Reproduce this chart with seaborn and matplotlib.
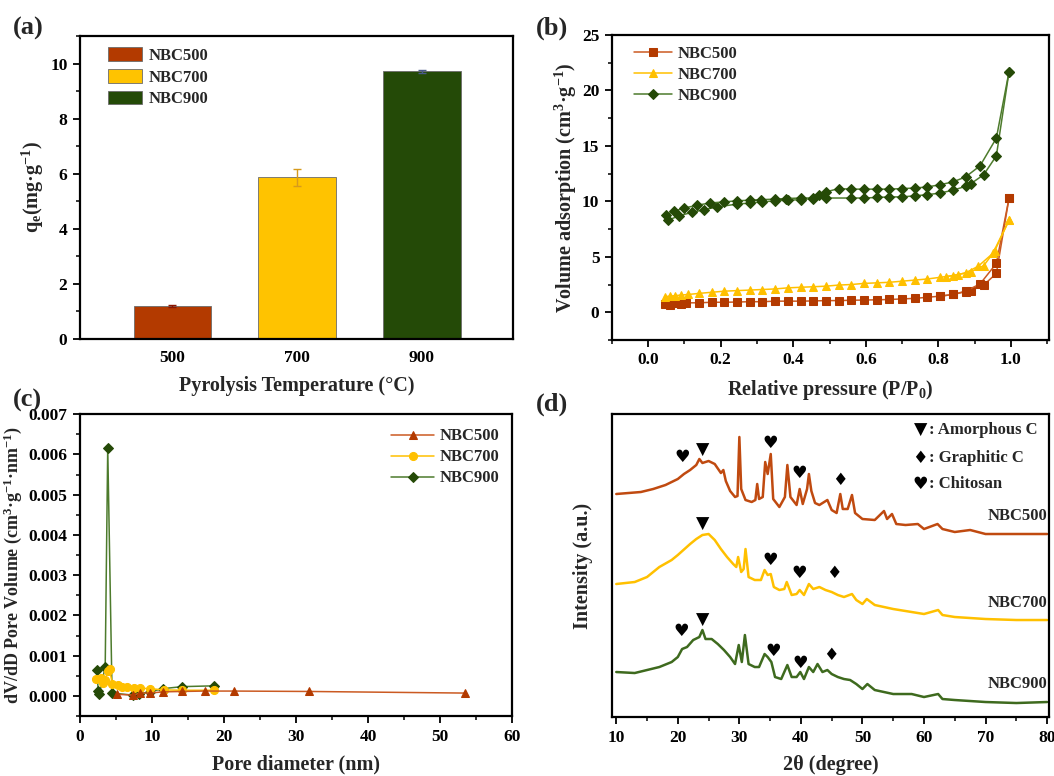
import numpy as np
import pandas as pd
import matplotlib
matplotlib.use("Agg")
import matplotlib.pyplot as plt
import seaborn as sns
from matplotlib.ticker import MultipleLocator, NullLocator

# ---------------- data ----------------
samples = ["NBC500", "NBC700", "NBC900"]
temps = ["500", "700", "900"]
qe = [1.20, 5.87, 9.72]
qe_err = [0.03, 0.30, 0.05]

# (b) N2 adsorption-desorption isotherms
b500_ads_p = [0.045, 0.06, 0.075, 0.09, 0.105, 0.14, 0.175, 0.21, 0.245, 0.28, 0.315, 0.35, 0.385, 0.42,
              0.455, 0.49, 0.525, 0.56, 0.595, 0.63, 0.665, 0.70, 0.735, 0.77, 0.805, 0.84, 0.875, 0.89,
              0.925, 0.96, 0.995]
b500_ads_v = [0.75, 0.65, 0.80, 0.75, 0.85, 0.85, 0.90, 0.90, 0.92, 0.95, 0.95, 1.00, 1.00, 1.00,
              1.02, 1.05, 1.05, 1.08, 1.10, 1.12, 1.15, 1.20, 1.25, 1.35, 1.45, 1.60, 1.85, 1.95,
              2.45, 3.50, 10.3]
b500_des_p = [0.995, 0.96, 0.915, 0.875, 0.84, 0.805]
b500_des_v = [10.3, 4.40, 2.55, 1.90, 1.60, 1.45]

b700_ads_p = [0.045, 0.06, 0.075, 0.09, 0.11, 0.14, 0.175, 0.21, 0.245, 0.28, 0.315, 0.35, 0.385, 0.42,
              0.455, 0.49, 0.525, 0.56, 0.595, 0.63, 0.665, 0.70, 0.735, 0.77, 0.805, 0.84, 0.875,
              0.91, 0.95, 0.995]
b700_ads_v = [1.40, 1.45, 1.50, 1.55, 1.60, 1.70, 1.80, 1.90, 1.95, 2.00, 2.05, 2.10, 2.20, 2.25,
              2.30, 2.35, 2.45, 2.50, 2.60, 2.65, 2.70, 2.80, 2.90, 3.00, 3.15, 3.30, 3.55,
              4.15, 5.30, 8.30]
b700_des_p = [0.995, 0.955, 0.925, 0.89, 0.855, 0.82]
b700_des_v = [8.30, 5.50, 4.20, 3.65, 3.40, 3.20]

b900_ads_p = [0.055, 0.085, 0.12, 0.155, 0.19, 0.245, 0.28, 0.315, 0.35, 0.385, 0.42, 0.455, 0.49,
              0.56, 0.595, 0.63, 0.665, 0.70, 0.735, 0.77, 0.805, 0.84, 0.875, 0.89, 0.925, 0.96, 0.995]
b900_ads_v = [8.30, 8.70, 9.00, 9.25, 9.50, 9.75, 9.85, 9.95, 10.05, 10.10, 10.15, 10.25, 10.30,
              10.30, 10.30, 10.35, 10.40, 10.40, 10.50, 10.60, 10.75, 11.00, 11.35, 11.60, 12.40, 14.10, 21.70]
b900_des_p = [0.995, 0.96, 0.915, 0.875, 0.84, 0.805, 0.77, 0.735, 0.70, 0.665, 0.63, 0.595, 0.56,
              0.525, 0.49, 0.47, 0.455, 0.42, 0.38, 0.35, 0.31, 0.28, 0.245, 0.21, 0.17, 0.135, 0.10,
              0.07, 0.05]
b900_des_v = [21.70, 15.70, 13.20, 12.20, 11.75, 11.50, 11.30, 11.20, 11.15, 11.10, 11.10, 11.10, 11.10,
              11.15, 10.85, 10.60, 10.30, 10.30, 10.25, 10.20, 10.15, 10.10, 10.05, 9.95, 9.85, 9.65, 9.40,
              9.10, 8.80]

# (c) pore size distribution
c500_d = [5.1, 7.3, 8.4, 9.7, 11.5, 14.2, 17.4, 21.4, 31.8, 53.4]
c500_v = [0.00004, 0.00002, 0.00007, 0.00007, 0.00010, 0.00011, 0.00012, 0.00012, 0.00011, 0.00007]
c700_d = [2.2, 2.9, 3.15, 3.5, 3.85, 4.1, 4.5, 5.3, 5.9, 6.5, 7.5, 8.4, 9.7, 11.6, 14.2, 18.6]
c700_v = [0.00043, 0.00045, 0.00031, 0.00040, 0.00062, 0.00066, 0.00029, 0.00026, 0.00023, 0.00022,
          0.00019, 0.00019, 0.00018, 0.00015, 0.00014, 0.00014]
c900_d = [2.3, 2.55, 2.7, 3.5, 3.85, 4.45, 7.3, 8.25, 9.7, 11.5, 14.2, 18.6]
c900_v = [0.00064, 0.00012, 0.00004, 0.00073, 0.00617, 0.00007, 0.00002, 0.00005, 0.00010, 0.00018,
          0.00023, 0.00025]

# (d) XRD patterns (offset, a.u.)
x500_t = [10, 12, 14, 16, 18, 20, 21, 22, 23, 23.5, 24, 25, 26, 27, 27.4, 27.8, 28.5, 29.3, 29.7, 30.0,
          30.3, 31, 32, 32.6, 32.9, 33.2, 33.8, 34.2, 34.6, 35.1, 35.5, 36.5, 37.4, 37.8, 38.3, 39.3,
          39.8, 40.3, 41.0, 41.3, 41.7, 42.3, 43, 44.3, 45, 45.8, 46.4, 46.8, 47.6, 48.3, 48.8, 50, 52,
          53.5, 54, 54.8, 55.5, 57, 59, 60, 62.2, 63, 65, 67.5, 70, 75, 80]
x500_i = [223, 224, 225, 228, 232, 238, 243, 247, 252, 258, 254, 256, 253, 244, 247, 236, 226, 220, 221, 280,
          228, 217, 215, 217, 233, 218, 220, 255, 243, 263, 218, 210, 220, 252, 220, 212,
          228, 213, 228, 243, 226, 214, 212, 217, 207, 204, 223, 208, 208, 222, 204, 198, 197,
          206, 198, 203, 193, 192, 193, 188, 193, 188, 185, 187, 183, 183, 183]
x700_t = [10, 13, 15, 17, 19, 20, 22, 23, 24, 25, 26, 27, 28, 29, 29.5, 29.8, 30.3, 30.7, 31.0, 31.5,
          32.5, 33.5, 34.1, 34.6, 35.1, 35.6, 36.5, 37.3, 37.7, 38.5, 39.3, 39.8, 40.5, 41.3, 42, 43,
          44, 45, 46, 47, 48.3, 49, 50, 50.7, 52, 55, 58, 60, 62.3, 63, 65, 70, 75, 80]
x700_i = [133, 135, 140, 150, 157, 162, 173, 178, 182, 183, 177, 168, 160, 153, 150, 160, 145, 148, 168, 140,
          137, 137, 147, 142, 143, 130, 127, 128, 135, 122, 123, 127, 122, 133, 128, 130,
          127, 125, 122, 120, 123, 117, 113, 118, 112, 108, 105, 103, 107, 102, 100, 98, 97, 97]
x900_t = [10, 13, 15, 17, 19, 20, 20.7, 21.5, 22.5, 23.5, 24, 24.5, 25.5, 26.5, 27.5, 28.5, 29.3, 29.9,
          30.4, 30.9, 31.5, 32.5, 33.2, 34.1, 34.6, 35.2, 35.8, 36.8, 37.8, 38.5, 39.3, 39.9, 40.5,
          41.3, 42, 42.7, 43.5, 44.3, 45, 46, 47, 48, 49, 50, 50.8, 52, 55, 58, 60, 62.3, 63, 65,
          70, 75, 80]
x900_i = [45, 44, 47, 50, 55, 60, 68, 70, 77, 80, 87, 78, 78, 73, 67, 60, 53, 72,
          55, 82, 53, 50, 50, 63, 60, 55, 40, 38, 52, 40, 40, 45, 38,
          50, 45, 53, 45, 47, 43, 40, 38, 37, 33, 28, 33, 27, 23, 23, 20, 23, 18, 17,
          15, 14, 15]

# XRD phase markers: (2theta, intensity, symbol)
mark500 = [(20.8, 260, "♥"), (24.0, 267, "▼"), (35.1, 274, "♥"), (39.8, 244, "♥"), (46.3, 237, "♦")]
mark700 = [(24.0, 193, "▼"), (35.1, 157, "♥"), (39.8, 144, "♥"), (45.4, 144, "♦")]
mark900 = [(20.6, 86, "♥"), (24.0, 97, "▼"), (35.5, 66, "♥"), (39.9, 54, "♥"), (44.8, 62, "♦")]
phase_symbols = ["▼", "♦", "♥"]
phase_names = [": Amorphous C", ": Graphitic C", ": Chitosan"]

# ---------------- style ----------------
bar_colors = ["#B33A00", "#FFC300", "#244A07"]
line_colors = ["#CB5A22", "#FFC000", "#4D7B2C"]
xrd_colors = ["#C04A10", "#FFC000", "#3E6A1E"]
mk_colors = ["#B33A00", "#FFC000", "#254A07"]
err_colors = ["#8B1500", "#D69A1C", "#4A5A8A"]

sns.set_theme(style="ticks")
plt.rcParams["font.family"] = ["Liberation Serif", "DejaVu Sans"]
plt.rcParams["font.weight"] = "bold"
plt.rcParams["axes.labelweight"] = "bold"
plt.rcParams["axes.linewidth"] = 1.6
plt.rcParams["axes.edgecolor"] = "black"
plt.rcParams["xtick.color"] = "black"
plt.rcParams["ytick.color"] = "black"
plt.rcParams["mathtext.default"] = "regular"

TICK = 12.5
LEG = 12
LAB = 14.5

fig = plt.figure(figsize=(10.54, 7.76), dpi=100)
axa = fig.add_axes([0.0759, 0.5631, 0.4108, 0.3905])
axb = fig.add_axes([0.5806, 0.5619, 0.4146, 0.3930])
axc = fig.add_axes([0.0759, 0.0773, 0.4100, 0.3890])
axd = fig.add_axes([0.5806, 0.0760, 0.4146, 0.3905])

def style_axis(ax):
    ax.tick_params(which="major", direction="out", length=5, width=1.3, labelsize=TICK, pad=4)
    ax.tick_params(which="minor", direction="out", length=3, width=1.1)
    for s in ax.spines.values():
        s.set_linewidth(1.6)

# ---------- (a) ----------
dfa = pd.DataFrame({"temp": temps, "qe": qe, "sample": samples})
sns.barplot(data=dfa, x="temp", y="qe", hue="sample", palette=bar_colors, dodge=False, saturation=1,
            width=0.62, edgecolor="#6b6b6b", linewidth=0.6, ax=axa)
for i in range(3):
    axa.errorbar(i, qe[i], yerr=qe_err[i], fmt="none", ecolor=err_colors[i], elinewidth=1.0,
                 capsize=3, capthick=1.0)
axa.set_xlim(-0.74, 2.73)
axa.set_ylim(0, 11)
axa.yaxis.set_major_locator(MultipleLocator(2))
axa.yaxis.set_minor_locator(MultipleLocator(1))
axa.set_xlabel("Pyrolysis Temperature (°C)", fontsize=LAB, labelpad=7)
axa.set_ylabel("q$_{e}$(mg·g$^{-1}$)", fontsize=LAB, labelpad=3)
style_axis(axa)
axa.tick_params(axis="x", length=0, pad=8)
axa.legend(loc="upper left", bbox_to_anchor=(0.05, 0.985), frameon=False,
           handlelength=2.0, handleheight=0.9, labelspacing=0.3, handletextpad=0.4,
           borderaxespad=0, prop={"weight": "bold", "size": LEG})

# ---------- (b) ----------
markers_b = ["s", "^", "D"]
iso = [(b500_ads_p, b500_ads_v, b500_des_p, b500_des_v),
       (b700_ads_p, b700_ads_v, b700_des_p, b700_des_v),
       (b900_ads_p, b900_ads_v, b900_des_p, b900_des_v)]
for k, (ap, av, dp, dv) in enumerate(iso):
    ms = 5.6 if markers_b[k] != "D" else 5.3
    sns.lineplot(x=ap, y=av, sort=False, estimator=None, ax=axb, color=line_colors[k], lw=1.1,
                 marker=markers_b[k], markersize=ms, markerfacecolor=mk_colors[k],
                 markeredgecolor=mk_colors[k], label=samples[k])
    sns.lineplot(x=dp, y=dv, sort=False, estimator=None, ax=axb, color=line_colors[k], lw=1.1,
                 marker=markers_b[k], markersize=ms, markerfacecolor=mk_colors[k],
                 markeredgecolor=mk_colors[k], label="_nolegend_")
axb.set_xlim(-0.1, 1.105)
axb.set_ylim(-2.5, 25)
axb.xaxis.set_major_locator(MultipleLocator(0.2))
axb.xaxis.set_minor_locator(MultipleLocator(0.1))
axb.yaxis.set_major_locator(MultipleLocator(5))
axb.yaxis.set_minor_locator(MultipleLocator(2.5))
axb.xaxis.set_major_formatter(matplotlib.ticker.FormatStrFormatter("%.1f"))
axb.set_xlabel("Relative pressure (P/P$_{0}$)", fontsize=LAB, labelpad=7)
axb.set_ylabel("Volume adsorption (cm$^{3}$·g$^{-1}$)", fontsize=LAB, labelpad=2)
style_axis(axb)
axb.legend(loc="upper left", bbox_to_anchor=(0.035, 0.985), frameon=False, handlelength=2.3,
           labelspacing=0.3, handletextpad=0.3, borderaxespad=0, prop={"weight": "bold", "size": LEG})

# ---------- (c) ----------
markers_c = ["^", "o", "D"]
psd = [(c500_d, c500_v), (c700_d, c700_v), (c900_d, c900_v)]
for k in [2, 1, 0]:
    d, v = psd[k]
    sns.lineplot(x=d, y=v, sort=False, estimator=None, ax=axc, color=line_colors[k], lw=1.1,
                 marker=markers_c[k], markersize=5.8 if k != 2 else 5.3, markerfacecolor=mk_colors[k],
                 markeredgecolor=mk_colors[k], label=samples[k])
h, l = axc.get_legend_handles_labels()
order = [l.index(s) for s in samples]
axc.legend([h[i] for i in order], [l[i] for i in order], loc="upper right",
           bbox_to_anchor=(0.985, 0.975), frameon=False, handlelength=2.6, labelspacing=0.3,
           handletextpad=0.3, borderaxespad=0, prop={"weight": "bold", "size": LEG})
axc.set_xlim(0, 60)
axc.set_ylim(-0.0005, 0.007)
axc.xaxis.set_major_locator(MultipleLocator(10))
axc.xaxis.set_minor_locator(MultipleLocator(5))
axc.yaxis.set_major_locator(MultipleLocator(0.001))
axc.yaxis.set_minor_locator(MultipleLocator(0.0005))
axc.yaxis.set_major_formatter(matplotlib.ticker.FormatStrFormatter("%.3f"))
axc.set_xlabel("Pore diameter (nm)", fontsize=LAB, labelpad=7)
axc.set_ylabel("dV/dD Pore Volume (cm$^{3}$·g$^{-1}$·nm$^{-1}$)", fontsize=13, labelpad=3)
style_axis(axc)

# ---------- (d) ----------
xrd = [(x500_t, x500_i), (x700_t, x700_i), (x900_t, x900_i)]
for k, (t, inten) in enumerate(xrd):
    sns.lineplot(x=t, y=inten, sort=False, estimator=None, ax=axd, color=xrd_colors[k], lw=1.8)
sym_font = ["DejaVu Sans"]
for marks in (mark500, mark700, mark900):
    for (t, inten, s) in marks:
        axd.text(t, inten, s, ha="center", va="center", fontsize=12.5, color="black", family=sym_font)
for j, (s, name) in enumerate(zip(phase_symbols, phase_names)):
    yv = [287, 259, 233][j]
    axd.text(59.4, yv, s, ha="center", va="center", fontsize=12.5, color="black", family=sym_font)
    axd.text(60.8, yv, name, ha="left", va="center", fontsize=LEG, fontweight="bold")
for k, yv in enumerate([201, 114, 33]):
    axd.text(80.0, yv, samples[k], ha="right", va="center", fontsize=LEG, fontweight="bold")
axd.set_xlim(9.3, 80.3)
axd.set_ylim(0, 303)
axd.xaxis.set_major_locator(MultipleLocator(10))
axd.xaxis.set_minor_locator(MultipleLocator(5))
axd.yaxis.set_major_locator(NullLocator())
axd.set_xlabel("2θ (degree)", fontsize=LAB, labelpad=7)
axd.set_ylabel("Intensity (a.u.)", fontsize=LAB, labelpad=14)
style_axis(axd)

# panel labels
for lab, (x, y) in zip(["(a)", "(b)", "(c)", "(d)"], [(0.012, 0.963), (0.508, 0.963), (0.012, 0.484), (0.508, 0.479)]):
    fig.text(x, y, lab, fontsize=19, fontweight="bold", ha="left", va="center")

# make tick labels bold (after ticks exist)
fig.canvas.draw()
for ax in (axa, axb, axc, axd):
    for lab in ax.get_xticklabels() + ax.get_yticklabels():
        lab.set_fontweight("bold")

fig.savefig("out.png", dpi=100)
